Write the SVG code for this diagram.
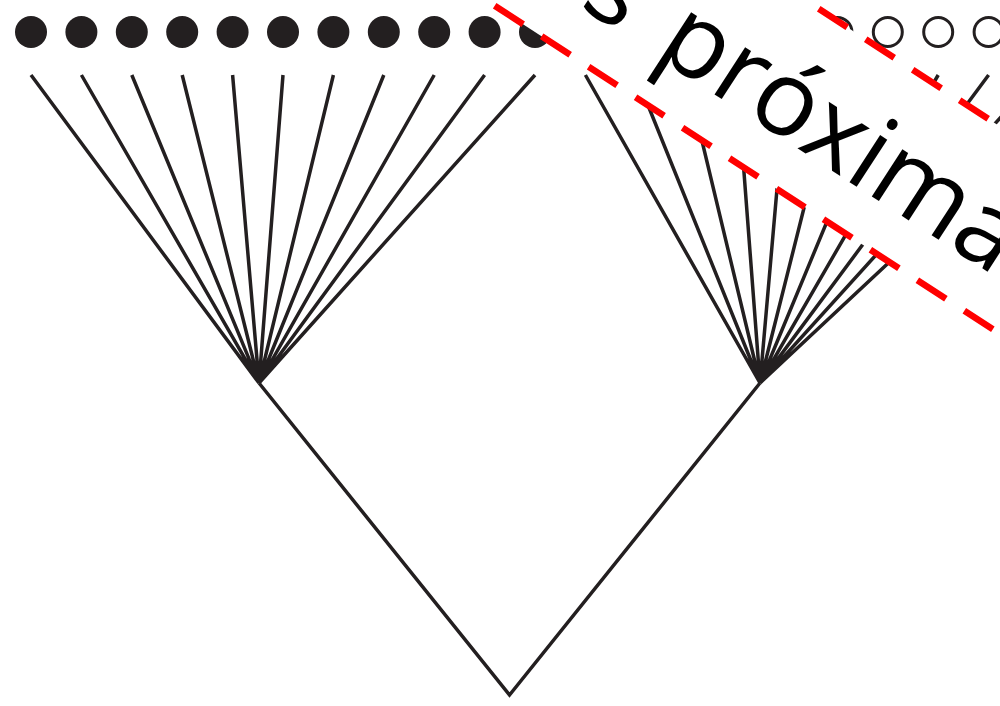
<svg xmlns="http://www.w3.org/2000/svg" width="1000" height="706" viewBox="0 0 1000 706">
  <style>
    .edge { fill: none; stroke: #231f20; stroke-width: 3.5; stroke-linecap: butt; }
    .leaf-filled { fill: #231f20; }
    .leaf-open { fill: #ffffff; stroke: #231f20; stroke-width: 3; }
    .band { fill: #ffffff; }
    .band-edge { stroke: #ff0000; stroke-width: 6.5; stroke-dasharray: 34 22; fill: none; }
    .band-text { font-family: "Open Sans", "Noto Sans", sans-serif; font-size: 105px; fill: #000000; }
  </style>
  <rect width="1000" height="706" fill="#ffffff"/>

  <!-- tree branches -->
  <g id="connectors">
    <!-- left cluster fan -->
    <path class="edge" d="M31,75 L259,383 M81.4,75 L259,383 M131.8,75 L259,383 M182.2,75 L259,383 M232.6,75 L259,383 M283,75 L259,383 M333.4,75 L259,383 M383.8,75 L259,383 M434.2,75 L259,383 M484.6,75 L259,383 M535,75 L259,383"/>
    <!-- right cluster fan -->
    <path class="edge" d="M585.4,75 L760,383 M635.8,75 L760,383 M686.2,75 L760,383 M736.6,75 L760,383 M787,75 L760,383 M837.4,75 L760,383 M887.8,75 L760,383 M938.2,75 L760,383 M988.6,75 L760,383 M1039,75 L760,383 M1089.4,75 L760,383"/>
    <!-- trunk joining both clusters -->
    <polyline class="edge" points="259,383 509.5,695 760,383" stroke-linejoin="miter"/>
  </g>

  <!-- filled leaves -->
  <g id="leaves-left">
    <circle class="leaf-filled" cx="31" cy="32" r="16"/>
    <circle class="leaf-filled" cx="81.4" cy="32" r="16"/>
    <circle class="leaf-filled" cx="131.8" cy="32" r="16"/>
    <circle class="leaf-filled" cx="182.2" cy="32" r="16"/>
    <circle class="leaf-filled" cx="232.6" cy="32" r="16"/>
    <circle class="leaf-filled" cx="283" cy="32" r="16"/>
    <circle class="leaf-filled" cx="333.4" cy="32" r="16"/>
    <circle class="leaf-filled" cx="383.8" cy="32" r="16"/>
    <circle class="leaf-filled" cx="434.2" cy="32" r="16"/>
    <circle class="leaf-filled" cx="484.6" cy="32" r="16"/>
    <circle class="leaf-filled" cx="535" cy="32" r="16"/>
  </g>

  <!-- open leaves -->
  <g id="leaves-right">
    <circle class="leaf-open" cx="585.4" cy="32" r="14.5"/>
    <circle class="leaf-open" cx="635.8" cy="32" r="14.5"/>
    <circle class="leaf-open" cx="686.2" cy="32" r="14.5"/>
    <circle class="leaf-open" cx="736.6" cy="32" r="14.5"/>
    <circle class="leaf-open" cx="787" cy="32" r="14.5"/>
    <circle class="leaf-open" cx="837.4" cy="32" r="14.5"/>
    <circle class="leaf-open" cx="887.8" cy="32" r="14.5"/>
    <circle class="leaf-open" cx="938.2" cy="32" r="14.5"/>
    <circle class="leaf-open" cx="988.6" cy="32" r="14.5"/>
  </g>

  <!-- slanted caption strip -->
  <g id="label-band" transform="rotate(33)">
    <rect class="band" x="-200" y="-438.6" width="1700" height="174"/>
    <line class="band-edge" x1="0" y1="-438.6" x2="1500" y2="-438.6" stroke-dashoffset="36.6"/>
    <line class="band-edge" x1="0" y1="-264.6" x2="1500" y2="-264.6" stroke-dashoffset="30"/>
    <text class="band-text" x="488" y="-310" word-spacing="12">s próxima</text>
  </g>
</svg>
